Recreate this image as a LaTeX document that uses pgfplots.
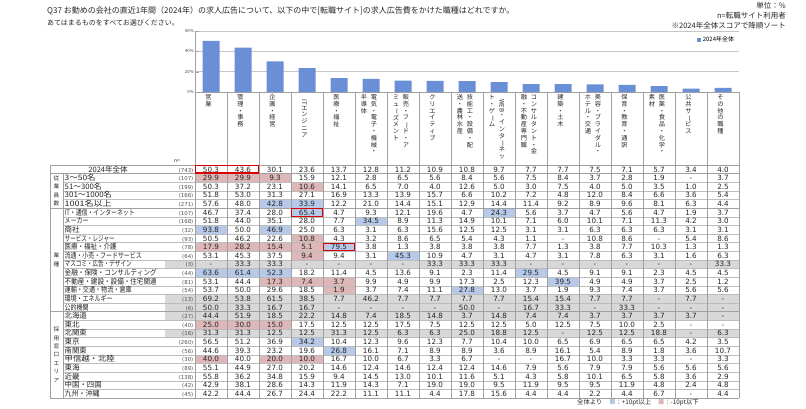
\documentclass[border=0pt]{standalone}
\usepackage{pgfplots}
\pgfplotsset{compat=1.18}
\usepackage{fontspec}
\usepackage{graphicx}
\setmainfont{Noto Sans CJK JP}
\newfontfamily\numfont{DejaVu Sans}
\newfontfamily\vfont{Noto Sans CJK JP}

\definecolor{barc}{RGB}{106,143,214}
\definecolor{hiB}{RGB}{183,201,232}
\definecolor{hiP}{RGB}{222,184,184}
\definecolor{grayc}{RGB}{216,216,216}
\definecolor{rulec}{RGB}{160,160,160}
\definecolor{txt}{RGB}{38,38,38}

% tategaki: one glyph per line, long vowel mark turned upright
\newdimen\vsh \newdimen\vsd
\vsh=5.2pt \vsd=1.6pt
\newcommand\vst[1]{\vbox{\offinterlineskip\vstx#1\relax}}
\def\vstx#1{\ifx\relax#1\else
  \hbox to 8pt{\hss\vrule width0pt height\vsh depth\vsd\relax
    \ifx ー#1\rotatebox[origin=c]{-90}{ー}\else #1\fi\hss}%
  \expandafter\vstx\fi}

\begin{document}
\begin{tikzpicture}
\path[fill=white] (0pt,0pt) rectangle (806pt,-408pt);

\begin{axis}[
  at={(195pt,-92pt)}, anchor=south west,
  scale only axis, width=544pt, height=61pt,
  xmin=-0.5, xmax=16.5, ymin=0, ymax=60,
  axis x line*=bottom, axis y line*=left,
  axis line style={draw=rulec, line width=0.5pt},
  xtick=\empty,
  ytick={0,20,40,60}, yticklabels={0\%,20\%,40\%,60\%},
  yticklabel style={font=\fontsize{4.3}{5}\selectfont, text=black!75, inner sep=1pt},
  major tick length=4pt, tick style={draw=rulec},
  ymajorgrids, grid style={draw=black!22, line width=0.7pt},
  legend style={at={(0.995,0.85)}, anchor=east, draw=none, fill=none,
    font=\fontsize{6}{7}\selectfont, inner sep=0pt},
  clip=false,
]
\addplot[ybar, bar width=17pt, fill=barc, draw=none,
  legend image code/.code={\fill[barc] (0pt,-1.8pt) rectangle (3.6pt,1.8pt);}]
  coordinates {
  (0,50.3)(1,43.6)(2,30.1)(3,23.6)(4,13.7)(5,12.8)(6,11.2)(7,10.9)(8,10.8)
  (9,9.7)(10,7.7)(11,7.7)(12,7.5)(13,7.1)(14,5.7)(15,3.4)(16,4.0)
  };
\legend{2024年全体}
\end{axis}

\begin{scope}[x=1pt,y=-1pt]
\def\rh{8.63}
% titles
\node[anchor=west,inner sep=0,font=\fontsize{8}{9}\selectfont,text=txt] at (47,11)
  {Q37 お勤めの会社の直近1年間（2024年）の求人広告について、以下の中で[転職サイト]の求人広告費をかけた職種はどれですか。};
\node[anchor=west,inner sep=0,font=\fontsize{7}{8}\selectfont,text=txt] at (47,23.3)
  {あてはまるものをすべてお選びください。};
\node[anchor=east,inner sep=0,font=\fontsize{7.5}{8}\selectfont,text=txt] at (786,6) {単位：\%};
\node[anchor=east,inner sep=0,font=\fontsize{7.5}{8}\selectfont,text=txt] at (786,16) {n=転職サイト利用者};
\node[anchor=east,inner sep=0,font=\fontsize{7.5}{8}\selectfont,text=txt] at (786,26) {※2024年全体スコアで降順ソート};

% shading
\foreach \r in {11,15,16,17,19}
  \fill[grayc] (165,{165+\rh*\r}) rectangle (739,{165+\rh*(\r+1)});
\foreach \r/\c/\cc in {1/1/hiP,1/2/hiP,1/3/hiP,2/4/hiP,4/3/hiB,4/4/hiB,5/4/hiB,5/10/hiB,
  6/6/hiB,7/1/hiB,7/3/hiB,8/4/hiP,9/1/hiP,9/2/hiP,9/3/hiP,9/4/hiP,9/5/hiB,10/4/hiP,10/7/hiB,
  12/1/hiB,12/2/hiB,12/3/hiB,12/11/hiB,13/3/hiP,13/4/hiP,13/5/hiP,13/12/hiB,14/5/hiP,14/9/hiB,
  18/1/hiP,18/2/hiP,18/3/hiP,20/4/hiB,21/5/hiB,22/1/hiP,22/3/hiP,22/4/hiP}
  \fill[\cc] ({195+32*(\c-1)},{165+\rh*\r}) rectangle ++(32,\rh);

% rules
\foreach \k in {2,3,4,6,7,...,16,18,19,...,26}
  \draw[rulec!70, line width=0.4pt] (63,{165+\rh*\k}) -- (739,{165+\rh*\k});
\foreach \k in {0,1,5,17,27}
  \draw[rulec, line width=0.6pt] (50,{165+\rh*\k}) -- (739,{165+\rh*\k});
\foreach \k in {0,...,17}
  \draw[rulec, line width=0.5pt] ({195+32*\k},92) -- ({195+32*\k},398);
\draw[rulec, line width=0.5pt] (50,165) -- (50,398);
\draw[rulec, line width=0.5pt] (63,{165+\rh}) -- (63,398);

% red frames
\draw[red!85!black, line width=1.1pt] (195.6,165.6) rectangle (258.4,{165+\rh-0.6});
\draw[red!85!black, line width=1.1pt] (291.6,{165+5*\rh+0.6}) rectangle (322.4,{165+6*\rh-0.6});
\draw[red!85!black, line width=1.1pt] (323.6,{165+9*\rh+0.6}) rectangle (354.4,{165+10*\rh-0.6});

% column headers (vertical text)
\tikzset{vl/.style={anchor=north,inner sep=0,font=\vfont\fontsize{6.2}{7}\selectfont,text=txt}}
\node[vl] at (208.5,94) {\vst{営業}};
\node[vl] at (240.5,94) {\vst{管理・事務}};
\node[vl] at (272.5,94) {\vst{企画・経営}};
\node[vl] at (304.5,94) {\vst{{\rotatebox{-90}{IT}}エンジニア}};
\node[vl] at (336.5,94) {\vst{医療・福祉}};
\node[vl] at (374,94) {\vst{電気・電子・機械・}};
\node[vl] at (364,94) {\vst{半導体}};
\node[vl] at (406,94) {\vst{販売・フード・ア}};
\node[vl] at (396,94) {\vst{ミューズメント}};
\node[vl] at (432.5,94) {\vst{クリエイティブ}};
\node[vl] at (470,94) {\vst{技能工・設備・配}};
\node[vl] at (460,94) {\vst{送・農林水産}};
\node[vl] at (502,94) {\vst{{\rotatebox{-90}{WEB}}・インターネッ}};
\node[vl] at (492,94) {\vst{ト・ゲーム}};
\node[vl] at (534,94) {\vst{コンサルタント・金}};
\node[vl] at (524,94) {\vst{融・不動産専門職}};
\node[vl] at (560.5,94) {\vst{建築・土木}};
\node[vl] at (598,94) {\vst{美容・ブライダル・}};
\node[vl] at (588,94) {\vst{ホテル・交通}};
\node[vl] at (624.5,94) {\vst{保育・教育・通訳}};
\node[vl] at (662,94) {\vst{医薬・食品・化学・}};
\node[vl] at (652,94) {\vst{素材}};
\node[vl] at (688.5,94) {\vst{公共サービス}};
\node[vl] at (720.5,94) {\vst{その他の職種}};
\node[anchor=base,inner sep=0,font=\fontsize{5}{6}\selectfont,text=txt] at (177,162) {n=};

% group labels
\tikzset{gl/.style={inner sep=0,font=\fontsize{5.6}{6}\selectfont,text=txt}}
\node[gl] at (56.5,{165+\rh*3}) {\vsh=6.2pt\vsd=2.2pt\vst{従業員数}};
\node[gl] at (56.5,{165+\rh*11}) {\vsh=6.2pt\vsd=2.2pt\vst{業種}};
\node[gl] at (56.5,{165+\rh*22}) {\vsh=6.2pt\vsd=2.2pt\vst{採用窓口エリア}};

% overall row
\node[anchor=base,inner sep=0,font=\fontsize{7.5}{8}\selectfont,text=txt] at (108,{165+\rh/2+2.7}) {2024年全体};
\node[anchor=base east,inner sep=0,font=\numfont\fontsize{5.4}{6}\selectfont,text=txt!80] at (193.5,{165+\rh/2+2.7}) {(743)};
\foreach \v [count=\c] in {50.3,43.6,30.1,23.6,13.7,12.8,11.2,10.9,10.8,9.7,7.7,7.7,7.5,7.1,5.7,3.4,4.0}
  \node[anchor=base,inner sep=0,font=\numfont\fontsize{7.2}{8}\selectfont,text=txt] at ({195+32*(\c-0.5)},{165+\rh/2+2.7}) {\v};

% body rows: label / label width / n / values
\foreach \lab/\w/\n/\vals [count=\r] in {
  3～50名/31/107/{29.9,29.9,9.3,15.9,12.1,2.8,6.5,5.6,8.4,5.6,7.5,8.4,3.7,2.8,1.9,-,3.7},
  51～300名/37/199/{50.3,37.2,23.1,10.6,14.1,6.5,7.0,4.0,12.6,5.0,3.0,7.5,4.0,5.0,3.5,1.0,2.5},
  301～1000名/47/166/{51.8,53.0,31.3,27.1,16.9,13.3,13.9,15.7,6.6,10.2,7.2,4.8,12.0,8.4,6.6,3.6,5.4},
  1001名以上/47/271/{57.6,48.0,42.8,33.9,12.2,21.0,14.4,15.1,12.9,14.4,11.4,9.2,8.9,9.6,8.1,6.3,4.4},
  IT・通信・インターネット/70/107/{46.7,37.4,28.0,65.4,4.7,9.3,12.1,19.6,4.7,24.3,5.6,3.7,4.7,5.6,4.7,1.9,3.7},
  メーカー/24/168/{51.8,44.0,35.1,28.0,7.7,34.5,8.9,11.3,14.9,10.1,7.1,6.0,10.1,7.1,11.3,4.2,3.0},
  商社/15/32/{93.8,50.0,46.9,25.0,6.3,3.1,6.3,15.6,12.5,12.5,3.1,3.1,6.3,6.3,6.3,3.1,3.1},
  サービス・レジャー/50/93/{50.5,46.2,22.6,10.8,4.3,3.2,8.6,6.5,5.4,4.3,1.1,-,10.8,8.6,-,5.4,8.6},
  医療・福祉・介護/52/78/{17.9,28.2,15.4,5.1,79.5,3.8,1.3,3.8,3.8,3.8,7.7,1.3,3.8,7.7,10.3,1.3,1.3},
  流通・小売・フードサービス/77/64/{53.1,45.3,37.5,9.4,9.4,3.1,45.3,10.9,4.7,3.1,4.7,3.1,7.8,6.3,3.1,1.6,6.3},
  マスコミ・広告・デザイン/67/3/{-,33.3,33.3,-,-,-,-,33.3,33.3,33.3,-,-,-,-,-,-,33.3},
  金融・保険・コンサルティング/92/44/{63.6,61.4,52.3,18.2,11.4,4.5,13.6,9.1,2.3,11.4,29.5,4.5,9.1,9.1,2.3,4.5,4.5},
  不動産・建設・設備・住宅関連/92/81/{53.1,44.4,17.3,7.4,3.7,9.9,4.9,9.9,17.3,2.5,12.3,39.5,4.9,4.9,3.7,2.5,1.2},
  運輸・交通・物流・倉庫/67/54/{53.7,50.0,29.6,18.5,1.9,3.7,7.4,11.1,27.8,13.0,3.7,1.9,9.3,7.4,3.7,5.6,5.6},
  環境・エネルギー/48/13/{69.2,53.8,61.5,38.5,7.7,46.2,7.7,7.7,7.7,7.7,15.4,15.4,7.7,7.7,-,7.7,-},
  公的機関/24/6/{50.0,33.3,16.7,16.7,-,-,-,-,50.0,-,16.7,33.3,-,33.3,-,-,-},
  北海道/22/27/{44.4,51.9,18.5,22.2,14.8,7.4,18.5,14.8,3.7,14.8,7.4,7.4,3.7,3.7,3.7,3.7,-},
  東北/15/40/{25.0,30.0,15.0,17.5,12.5,12.5,17.5,7.5,12.5,12.5,5.0,12.5,7.5,10.0,2.5,-,-},
  北関東/22/16/{31.3,31.3,12.5,12.5,31.3,12.5,6.3,6.3,25.0,18.8,12.5,-,12.5,12.5,18.8,-,6.3},
  東京/15/260/{56.5,51.2,36.9,34.2,10.4,12.3,9.6,12.3,7.7,10.4,10.0,6.5,6.9,6.5,6.5,4.2,3.5},
  南関東/22/56/{44.6,39.3,23.2,19.6,26.8,16.1,7.1,8.9,8.9,3.6,8.9,16.1,5.4,8.9,1.8,3.6,10.7},
  甲信越・北陸/50/30/{40.0,40.0,20.0,10.0,16.7,10.0,6.7,3.3,6.7,-,-,16.7,10.0,3.3,3.3,-,3.3},
  東海/15/89/{55.1,44.9,27.0,20.2,14.6,12.4,14.6,12.4,12.4,14.6,7.9,5.6,7.9,7.9,5.6,5.6,5.6},
  近畿/15/138/{55.8,36.2,34.8,15.9,9.4,14.5,13.0,10.1,11.6,5.1,4.3,5.8,10.1,6.5,5.8,3.6,2.9},
  中国・四国/37/42/{42.9,38.1,28.6,14.3,11.9,14.3,7.1,19.0,19.0,9.5,11.9,9.5,9.5,11.9,4.8,2.4,4.8},
  九州・沖縄/35/45/{42.2,44.4,26.7,24.4,22.2,11.1,11.1,4.4,17.8,15.6,4.4,4.4,2.2,4.4,6.7,-,4.4}}{%
  \pgfmathsetmacro\yb{165+\rh*(\r+0.5)+2.7}
  \node[anchor=base west,inner sep=0,font=\fontsize{7.5}{8}\selectfont,text=txt] at (64.5,\yb) {\resizebox{\w pt}{\height}{\lab}};
  \node[anchor=base east,inner sep=0,font=\numfont\fontsize{5.4}{6}\selectfont,text=txt!80] at (193.5,\yb) {(\n)};
  \foreach \v [count=\c] in \vals
    \node[anchor=base,inner sep=0,font=\numfont\fontsize{7.2}{8}\selectfont,text=txt] at ({195+32*(\c-0.5)},\yb) {\v};
}

% bottom key
\node[anchor=west,inner sep=0,font=\fontsize{6.3}{7}\selectfont,text=txt] at (577,402.8)
  {全体より\hspace{7pt}\textcolor{hiB}{■}：+10pt以上\hspace{7pt}\textcolor{hiP}{■}：-10pt以下};
\end{scope}
\end{tikzpicture}
\end{document}
